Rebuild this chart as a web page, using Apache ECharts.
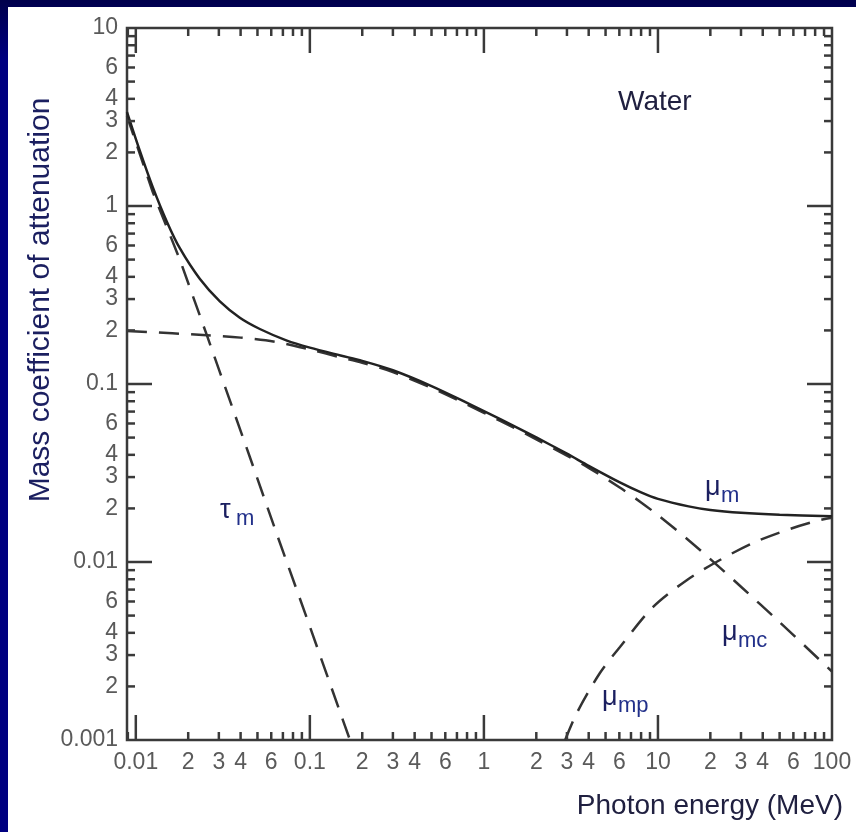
<!DOCTYPE html>
<html>
<head>
<meta charset="utf-8">
<script src="https://cdn.jsdelivr.net/npm/echarts@6/dist/echarts.min.js"></script>
<style>
  html, body { margin: 0; padding: 0; }
  body { width: 856px; height: 832px; background: linear-gradient(#00004c 0px, #000080 60px, #000080 100%); }
  #chart { width: 856px; height: 832px; }
</style>
</head>
<body>
<div id="chart"></div>
<script>
// photon energy (MeV) and mass coefficient (cm2/g)
const muE  = [0.0089, 0.01054, 0.0125, 0.01506, 0.0179, 0.0233, 0.0304, 0.0396, 0.0516, 0.0738, 0.1, 0.15, 0.2, 0.3, 0.5, 0.8, 1.25, 2, 3, 4, 6, 8, 10, 15, 20, 30, 50, 100]
const muM  = [3.37, 2.046, 1.28, 0.819, 0.579, 0.390, 0.291, 0.2356, 0.2037, 0.1753, 0.160, 0.1446, 0.1349, 0.1195, 0.0974, 0.0784, 0.0633, 0.0501, 0.0406, 0.0347, 0.0281, 0.0246, 0.02263, 0.02053, 0.0196, 0.0189, 0.01842, 0.01805]

const tauE = [0.0089, 0.0125, 0.0179, 0.0256, 0.0304, 0.0452, 0.0655, 0.0961, 0.155, 0.170]
const tauM = [3.2, 1.2, 0.50, 0.188, 0.1167, 0.0389, 0.0138, 0.00484, 0.00129, 0.001]

const mcE  = [0.0089, 0.0256, 0.04, 0.0646, 0.1, 0.15, 0.2, 0.3, 0.5, 0.8, 1.25, 2, 3, 4, 6, 8, 10, 15, 20, 30, 50, 100]
const mcM  = [0.1986, 0.188, 0.1822, 0.172, 0.1563, 0.1412, 0.1317, 0.1167, 0.0951, 0.0766, 0.0618, 0.0489, 0.0396, 0.0338, 0.0263, 0.02162, 0.01833, 0.01326, 0.01038, 0.00726, 0.00459, 0.002424]

const mpE  = [2.93, 3.42, 4.64, 6.05, 9.35, 14.7, 22.7, 35.2, 55.1, 85.3, 100]
const mpM  = [0.001, 0.00142, 0.00238, 0.00333, 0.00558, 0.00793, 0.01026, 0.0128, 0.01514, 0.01722, 0.0177]

// tick labels
const xTickValues = [0.01, 0.02, 0.03, 0.04, 0.06, 0.1, 0.2, 0.3, 0.4, 0.6, 1, 2, 3, 4, 6, 10, 20, 30, 40, 60, 100]
const xTickLabels = ['0.01', '2', '3', '4', '6', '0.1', '2', '3', '4', '6', '1', '2', '3', '4', '6', '10', '2', '3', '4', '6', '100']
const yTickValues = [0.001, 0.002, 0.003, 0.004, 0.006, 0.01, 0.02, 0.03, 0.04, 0.06, 0.1, 0.2, 0.3, 0.4, 0.6, 1, 2, 3, 4, 6, 10]
const yTickLabels = ['0.001', '2', '3', '4', '6', '0.01', '2', '3', '4', '6', '0.1', '2', '3', '4', '6', '1', '2', '3', '4', '6', '10']

const X_MIN = 0.0089
const X_MAX = 100
const Y_MIN = 0.001
const Y_MAX = 10

const FONT = '"Liberation Sans", Arial, sans-serif'
const INK = '#3a3a3a'
const NAVY = '#1b1f60'

const zip = (xs, ys) => xs.map((x, i) => [x, ys[i]])

// ticks on all four sides plus the 2-3-4-6 labels
function renderFrame(params, api) {
  const cs = params.coordSys
  const left = cs.x
  const top = cs.y
  const right = cs.x + cs.width
  const bottom = cs.y + cs.height
  const children = []
  const seg = (x1, y1, x2, y2) => {
    children.push({
      type: 'line',
      shape: { x1, y1, x2, y2 },
      style: { stroke: INK, lineWidth: 2.5 },
    })
  }
  for (let d = -3; d <= 2; d++) {
    for (let k = 1; k <= 9; k++) {
      const v = k * Math.pow(10, d)
      const len = k === 1 ? 25 : 8
      if (v > X_MIN * 1.001 && v < X_MAX * 0.999) {
        const px = api.coord([v, Y_MIN])[0]
        seg(px, bottom, px, bottom - len)
        seg(px, top, px, top + len)
      }
      if (v > Y_MIN * 1.001 && v < Y_MAX * 0.999) {
        const py = api.coord([X_MIN, v])[1]
        seg(left, py, left + len, py)
        seg(right, py, right - len, py)
      }
    }
  }
  xTickValues.forEach((v, i) => {
    const px = api.coord([v, Y_MIN])[0]
    children.push({
      type: 'text',
      x: px,
      y: bottom + 11,
      style: { text: xTickLabels[i], fill: '#5a5a5a', font: '23px ' + FONT, align: 'center', verticalAlign: 'top' },
    })
  })
  yTickValues.forEach((v, i) => {
    const py = api.coord([X_MIN, v])[1]
    children.push({
      type: 'text',
      x: left - 9,
      y: py,
      style: { text: yTickLabels[i], fill: '#5a5a5a', font: '23px ' + FONT, align: 'right', verticalAlign: 'middle' },
    })
  })
  return { type: 'group', children }
}

// greek symbol with a lowered subscript
function symbolLabel(x, baseY, main, sub) {
  return [
    {
      type: 'text', x: x, y: baseY - 9, z: 100,
      style: { text: main, fill: NAVY, font: '27px ' + FONT, align: 'left', verticalAlign: 'middle' },
    },
    {
      type: 'text', x: x + 16, y: baseY - 1, z: 100,
      style: { text: sub, fill: '#22308a', font: '22px ' + FONT, align: 'left', verticalAlign: 'middle' },
    },
  ]
}

const chart = echarts.init(document.getElementById('chart'))

const option = {
  animation: false,
  backgroundColor: 'transparent',
  grid: {
    left: 127,
    top: 28,
    width: 705,
    height: 712,
    show: true,
    borderColor: INK,
    borderWidth: 2.5,
    containLabel: false,
  },
  xAxis: {
    type: 'log',
    logBase: 10,
    min: X_MIN,
    max: X_MAX,
    axisLine: { show: false },
    axisTick: { show: false },
    axisLabel: { show: false },
    splitLine: { show: false },
  },
  yAxis: {
    type: 'log',
    logBase: 10,
    min: Y_MIN,
    max: Y_MAX,
    axisLine: { show: false },
    axisTick: { show: false },
    axisLabel: { show: false },
    splitLine: { show: false },
  },
  graphic: [
    {
      type: 'rect', z: -100,
      shape: { x: 8, y: 7, width: 848, height: 825 },
      style: { fill: '#ffffff' },
    },
    {
      type: 'text', x: 41, y: 300, rotation: Math.PI / 2, z: 100,
      style: { text: 'Mass coefficient of attenuation', fill: NAVY, font: '30px ' + FONT, align: 'center', verticalAlign: 'middle' },
    },
    {
      type: 'text', x: 843, y: 806, z: 100,
      style: { text: 'Photon energy (MeV)', fill: '#202040', font: '28px ' + FONT, align: 'right', verticalAlign: 'middle' },
    },
    {
      type: 'text', x: 618, y: 102, z: 100,
      style: { text: 'Water', fill: '#202040', font: '28px ' + FONT, align: 'left', verticalAlign: 'middle' },
    },
    ...symbolLabel(220, 520, 'τ', 'm'),
    ...symbolLabel(705, 497, 'μ', 'm'),
    ...symbolLabel(722, 642, 'μ', 'mc'),
    ...symbolLabel(602, 707, 'μ', 'mp'),
  ],
  series: [
    {
      name: 'μm',
      type: 'line',
      data: zip(muE, muM),
      showSymbol: false,
      smooth: 0.3,
      lineStyle: { color: '#222', width: 2.5 },
      z: 4,
    },
    {
      name: 'τm',
      type: 'line',
      data: zip(tauE, tauM),
      showSymbol: false,
      lineStyle: { color: '#333', width: 2.5, type: [20, 12] },
    },
    {
      name: 'μmc',
      type: 'line',
      data: zip(mcE, mcM),
      showSymbol: false,
      smooth: 0.3,
      lineStyle: { color: '#333', width: 2.5, type: [20, 12] },
    },
    {
      name: 'μmp',
      type: 'line',
      data: zip(mpE, mpM),
      showSymbol: false,
      smooth: 0.3,
      lineStyle: { color: '#333', width: 2.5, type: [20, 12] },
    },
    {
      name: 'frame',
      type: 'custom',
      silent: true,
      clip: false,
      z: 5,
      data: [[1, 0.1]],
      renderItem: renderFrame,
    },
  ],
}

chart.setOption(option)
</script>
</body>
</html>
